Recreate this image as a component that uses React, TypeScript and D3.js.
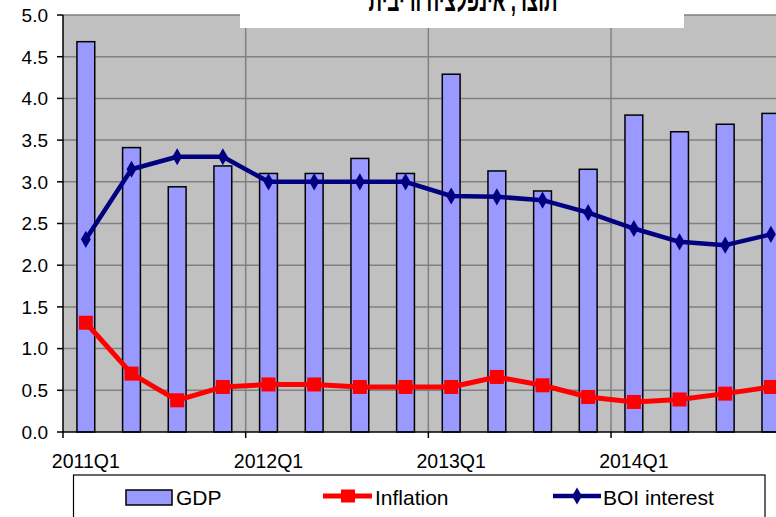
import React from 'react';
import * as d3 from 'd3';

const quarters = [
  '2011Q1', '2011Q2', '2011Q3', '2011Q4',
  '2012Q1', '2012Q2', '2012Q3', '2012Q4',
  '2013Q1', '2013Q2', '2013Q3', '2013Q4',
  '2014Q1', '2014Q2', '2014Q3', '2014Q4',
];
const gdp = [4.68, 3.41, 2.94, 3.19, 3.1, 3.1, 3.28, 3.1, 4.29, 3.13, 2.89, 3.15, 3.8, 3.6, 3.69, 3.82];
const inflation = [1.31, 0.7, 0.38, 0.54, 0.57, 0.57, 0.54, 0.54, 0.54, 0.66, 0.56, 0.42, 0.36, 0.39, 0.46, 0.54];
const boiRate = [2.31, 3.15, 3.3, 3.3, 3.0, 3.0, 3.0, 3.0, 2.83, 2.82, 2.78, 2.63, 2.44, 2.28, 2.24, 2.37];
const yTicks = [0, 0.5, 1, 1.5, 2, 2.5, 3, 3.5, 4, 4.5, 5];
const xLabels = ['2011Q1', '2012Q1', '2013Q1', '2014Q1'];
const title = 'תוצר, אינפלציה וריבית';

const W = 776;
const H = 517;
const left = 63;
const top = 15;
const bottom = 432;
const band = 45.67;
const font = '"Liberation Sans", Arial, sans-serif';

export default function App() {
  const x = d3.scaleBand().domain(quarters).range([left, left + band * quarters.length]).padding(0);
  const y = d3.scaleLinear().domain([0, 5]).range([bottom, top]);
  const cx = (q: string) => (x(q) ?? 0) + x.bandwidth() / 2;
  const barW = x.bandwidth() * 0.39;

  const line = d3.line<number>().x((_, i) => cx(quarters[i])).y((d) => y(d));
  const diamond = d3.symbol().type(d3.symbolDiamond).size(85);

  return (
    <svg width={W} height={H} style={{ position: 'absolute', left: 0, top: 0, background: '#fff' }} fontFamily={font}>
      <rect x={left} y={top} width={W - left} height={bottom - top} fill="#c0c0c0" />

      {yTicks.filter((t) => t > 0).map((t) => (
        <line key={t} x1={left} x2={W} y1={y(t)} y2={y(t)} stroke="#808080" strokeWidth={1.5} />
      ))}
      {xLabels.slice(1).map((q) => (
        <line key={q} x1={x(q)} x2={x(q)} y1={top} y2={bottom} stroke="#808080" strokeWidth={1.5} />
      ))}

      {quarters.map((q, i) => (
        <rect key={q} x={cx(q) - barW / 2} y={y(gdp[i])} width={barW} height={bottom - y(gdp[i])}
          fill="#9999ff" stroke="#000" strokeWidth={1.5} />
      ))}

      <path d={line(inflation) ?? ''} fill="none" stroke="#ff0000" strokeWidth={5} strokeLinejoin="round" />
      {quarters.map((q, i) => (
        <rect key={q} x={cx(q) - 7} y={y(inflation[i]) - 7} width={14} height={14} fill="#ff0000" />
      ))}

      <path d={line(boiRate) ?? ''} fill="none" stroke="#000080" strokeWidth={4.5} strokeLinejoin="round" />
      {quarters.map((q, i) => (
        <path key={q} d={diamond() ?? ''} transform={`translate(${cx(q)},${y(boiRate[i])})`} fill="#000080" />
      ))}

      {/* axes */}
      <line x1={left} x2={left} y1={top} y2={bottom} stroke="#000" strokeWidth={1.5} />
      <line x1={left} x2={W} y1={bottom} y2={bottom} stroke="#000" strokeWidth={1.5} />
      {yTicks.map((t) => (
        <g key={t}>
          <line x1={left - 6} x2={left} y1={y(t)} y2={y(t)} stroke="#000" strokeWidth={1.5} />
          <text x={48} y={y(t)} dy="0.36em" textAnchor="end" fontSize={19} fill="#000">{t.toFixed(1)}</text>
        </g>
      ))}
      {xLabels.map((q) => (
        <g key={q}>
          <line x1={x(q)} x2={x(q)} y1={bottom} y2={bottom + 6} stroke="#000" strokeWidth={1.5} />
          <text x={cx(q)} y={468} textAnchor="middle" fontSize={19.5} fill="#000">{q}</text>
        </g>
      ))}

      {/* title, cut off at the top as in the source image */}
      <rect x={240} y={0} width={444} height={28} fill="#fff" />
      <text x={463} y={11} textAnchor="middle" fontSize={32} fontWeight="bold" direction="rtl"
        textLength={189} lengthAdjust="spacingAndGlyphs" fill="#000">{title}</text>

      {/* legend */}
      <rect x={73.5} y={475} width={691.5} height={60} fill="#fff" stroke="#000" strokeWidth={1.2} />
      <rect x={126} y={490} width={46} height={15} fill="#9999ff" stroke="#000" strokeWidth={1.5} />
      <text x={176} y={505} fontSize={21} fill="#000">GDP</text>

      <line x1={323} x2={372} y1={496} y2={496} stroke="#ff0000" strokeWidth={5} />
      <rect x={341} y={489.5} width={14} height={13} fill="#ff0000" />
      <text x={375} y={505} fontSize={21} fill="#000">Inflation</text>

      <line x1={553} x2={601} y1={496} y2={496} stroke="#000080" strokeWidth={4.5} />
      <path d={diamond() ?? ''} transform="translate(577,496)" fill="#000080" />
      <text x={603} y={505} fontSize={21} fill="#000">BOI interest</text>
    </svg>
  );
}
